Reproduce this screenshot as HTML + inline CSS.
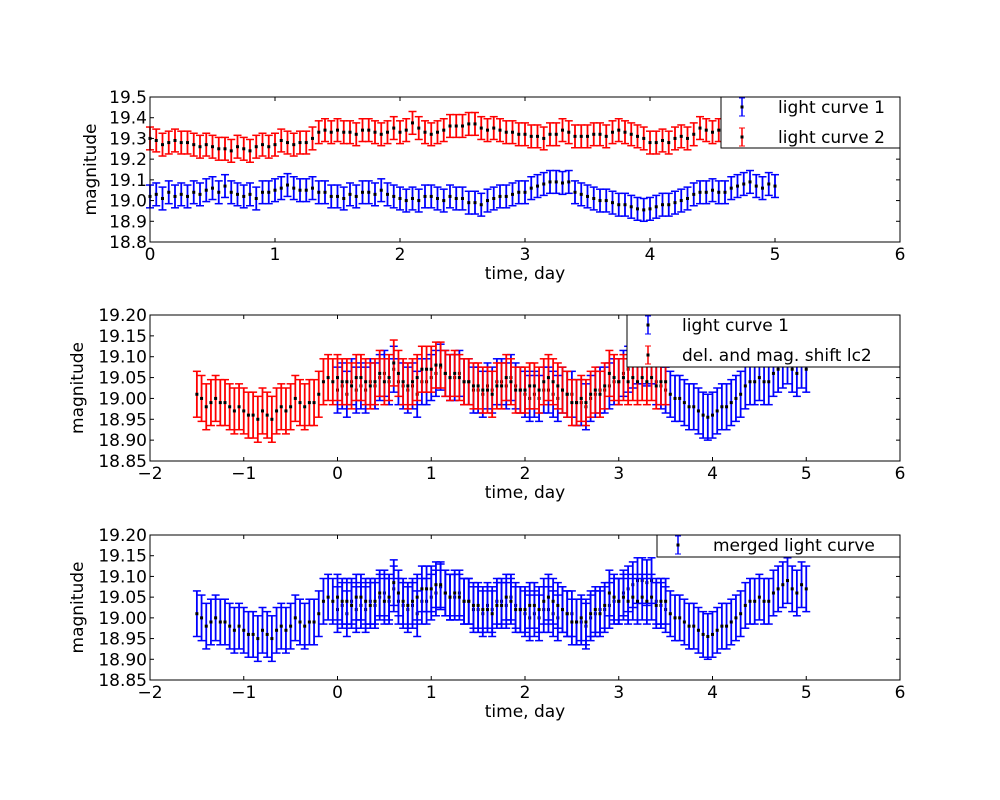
<!DOCTYPE html>
<html><head><meta charset="utf-8"><style>
body{margin:0;background:#fff;}
svg{display:block;font-family:"DejaVu Sans","Liberation Sans",sans-serif;}
</style></head><body>
<svg id="chart" width="1000" height="800" xmlns="http://www.w3.org/2000/svg"></svg>
<script>
const times = Array.from({length:101},(_,i)=>+(i*0.05).toFixed(2));
const lc1 = [19.02,19.03,19.01,19.04,19.02, 19.03,19.02,19.04,19.03,19.05,
19.06,19.04,19.07,19.04,19.03, 19.02,19.03,19.01,19.04,19.04,
19.05,19.06,19.075,19.06,19.05, 19.05,19.06,19.04,19.04,19.02,
19.02,19.01,19.03,19.02,19.04, 19.04,19.03,19.05,19.03,19.02,
19.01,19.00,19.01,19.00,19.02, 19.02,19.01,19.00,19.02,19.01,
19.01,18.99,18.99,18.98,19.00, 19.01,19.02,19.02,19.03,19.04,
19.04,19.06,19.07,19.08,19.09, 19.09,19.085,19.09,19.04,19.03,
19.02,19.01,19.00,19.00,18.99, 18.98,18.98,18.97,18.96,18.955,
18.96,18.97,18.98,18.98,18.99, 19.00,19.01,19.03,19.04,19.04,
19.05,19.04,19.04,19.06,19.07, 19.08,19.09,19.07,19.06,19.08, 19.07];
const lc2 = [19.30,19.29,19.27,19.28,19.29, 19.28,19.28,19.27,19.26,19.27,
19.26,19.25,19.25,19.24,19.26, 19.25,19.24,19.26,19.27,19.26,
19.27,19.29,19.28,19.27,19.28, 19.28,19.30,19.33,19.34,19.33,
19.34,19.33,19.33,19.32,19.34, 19.34,19.33,19.32,19.33,19.35,
19.33,19.34,19.375,19.35,19.33, 19.32,19.33,19.34,19.36,19.36,
19.36,19.37,19.37,19.35,19.34, 19.35,19.34,19.33,19.33,19.32,
19.32,19.31,19.31,19.30,19.32, 19.32,19.34,19.33,19.31,19.31,
19.31,19.32,19.32,19.31,19.33, 19.34,19.33,19.32,19.31,19.30,
19.28,19.28,19.29,19.28,19.30, 19.31,19.30,19.32,19.35,19.34,
19.33,19.34,19.33,19.34,19.33, 19.34,19.33,19.34,19.32,19.33, 19.33];
const err1 = 0.055;
const err2 = 0.055;
const delay = 1.5;
const magShift = 0.29;
const xTicks1 = [0,1,2,3,4,5,6];
const xTicks2 = [-2,-1,0,1,2,3,4,5,6];
const yTicks1 = [18.8,18.9,19.0,19.1,19.2,19.3,19.4,19.5];
const yTicks2 = [18.85,18.90,18.95,19.00,19.05,19.10,19.15,19.20];

const svg = document.getElementById('chart');
const NS = 'http://www.w3.org/2000/svg';
function mk(tag, attrs, parent){
  const e = document.createElementNS(NS, tag);
  for (const k in attrs) e.setAttribute(k, attrs[k]);
  (parent||svg).appendChild(e);
  return e;
}
function fmtX(v){ return v<0 ? '\u2212'+(-v) : String(v); }

function panel(name, top, bottom, xmin, xmax, ymin, ymax, xt, yt, ydec){
  const L=150, R=900;
  const g = mk('g', {});
  
  
  const sx = v => L + (v - xmin) / (xmax - xmin) * (R - L);
  const sy = v => bottom - (v - ymin) / (ymax - ymin) * (bottom - top);
  const marks = mk('g', {}, g);
  
  
  const axes = mk('g', {}, g);
  
  
  xt.forEach(v => {
    const x = sx(v);
    mk('line', {x1:x, x2:x, y1:bottom, y2:bottom-4, stroke:'#000'}, axes);
    mk('line', {x1:x, x2:x, y1:top, y2:top+4, stroke:'#000'}, axes);
    const t = mk('text', {x:x, y:bottom+18, 'font-size':17, 'text-anchor':'middle'}, axes);
    
    
    t.textContent = fmtX(v);
  });
  yt.forEach(v => {
    const y = sy(v);
    mk('line', {x1:L, x2:L+4, y1:y, y2:y, stroke:'#000'}, axes);
    mk('line', {x1:R, x2:R-4, y1:y, y2:y, stroke:'#000'}, axes);
    const t = mk('text', {x:L-3, y:y+6, 'font-size':17, 'text-anchor':'end'}, axes);
    
    
    t.textContent = v.toFixed(ydec);
  });
  const fr = mk('rect', {x:L, y:top, width:R-L, height:bottom-top, fill:'none', stroke:'#000', 'stroke-width':1}, axes);
  
  
  const xl = mk('text', {x:(L+R)/2, y:bottom+37, 'font-size':17, 'text-anchor':'middle'}, axes);
  
  
  xl.textContent = 'time, day';
  const yc = (top+bottom)/2;
  const yl = mk('text', {x:0, y:0, 'font-size':17, 'text-anchor':'middle', transform:`translate(${ydec==1?96:83},${yc}) rotate(-90)`}, axes);
  
  
  yl.textContent = 'magnitude';
  return {g, marks, sx, sy, L, R, top, bottom};
}

function series(p, name, ts, vals, err, color, dt, dm){
  const s = mk('g', {}, p.marks);
  
  
  ts.forEach((t, i) => {
    const x = p.sx(t + dt), v = vals[i] + dm;
    const y1 = p.sy(v + err), y2 = p.sy(v - err);
    if (x < p.L || x > p.R) return;
    const b = mk('g', {}, s);
    
    
    mk('line', {x1:x, x2:x, y1:Math.max(y1,p.top), y2:Math.min(y2,p.bottom), stroke:color, 'stroke-width':1.8}, b);
    if (y1 >= p.top) mk('line', {x1:x-4, x2:x+4, y1:y1, y2:y1, stroke:color, 'stroke-width':1.5}, b);
    if (y2 <= p.bottom) mk('line', {x1:x-4, x2:x+4, y1:y2, y2:y2, stroke:color, 'stroke-width':1.5}, b);
  });
  ts.forEach((t, i) => {
    const x = p.sx(t + dt), y = p.sy(vals[i] + dm);
    if (x < p.L || x > p.R) return;
    const d = mk('rect', {x:x-1.5, y:y-1.5, width:3, height:3, fill:'#000'}, s);
    
    
  });
}

function legend(p, x, y, w, h, entries, textX){
  const lg = mk('g', {}, p.g);
  
  
  mk('rect', {x:x, y:y, width:w, height:h, fill:'#fff', stroke:'#000'}, lg);
  entries.forEach((e, i) => {
    const cy = y + 10 + i*30;
    const en = mk('g', {}, lg);
    
    
    const mx = x + 21;
    mk('line', {x1:mx, x2:mx, y1:cy-9, y2:cy+9, stroke:e.c, 'stroke-width':1.5}, en);
    mk('line', {x1:mx-3, x2:mx+3, y1:cy-9, y2:cy-9, stroke:e.c}, en);
    mk('line', {x1:mx-3, x2:mx+3, y1:cy+9, y2:cy+9, stroke:e.c}, en);
    mk('rect', {x:mx-1.5, y:cy-1.5, width:3, height:3, fill:'#000'}, en);
    const t = mk('text', {x:textX, y:cy+6, 'font-size':17}, en);
    t.textContent = e.t;
  });
}

// panel 1
const p1 = panel('top-panel', 97, 242, 0, 6, 18.8, 19.5, xTicks1, yTicks1, 1);
series(p1, 'light-curve-1', times, lc1, err1, '#0000ff', 0, 0);
series(p1, 'light-curve-2', times, lc2, err2, '#ff0000', 0, 0);
legend(p1, 721, 97, 179, 51, [{c:'#0000ff', t:'light curve 1'},{c:'#ff0000', t:'light curve 2'}], 778);

// panel 2
const p2 = panel('middle-panel', 315, 461, -2, 6, 18.85, 19.20, xTicks2, yTicks2, 2);
series(p2, 'light-curve-1-shifted-panel', times, lc1, err1, '#0000ff', 0, 0);
series(p2, 'shifted-light-curve-2', times, lc2, err2, '#ff0000', -delay, -magShift);
legend(p2, 627, 315, 273, 52, [{c:'#0000ff', t:'light curve 1'},{c:'#ff0000', t:'del. and mag. shift lc2'}], 682);

// panel 3
const p3 = panel('bottom-panel', 535, 680, -2, 6, 18.85, 19.20, xTicks2, yTicks2, 2);
series(p3, 'merged-lc1-part', times, lc1, err1, '#0000ff', 0, 0);
series(p3, 'merged-lc2-part', times, lc2, err2, '#0000ff', -delay, -magShift);
legend(p3, 657, 535, 243, 22, [{c:'#0000ff', t:'merged light curve'}], 713);
</script>
</body></html>
